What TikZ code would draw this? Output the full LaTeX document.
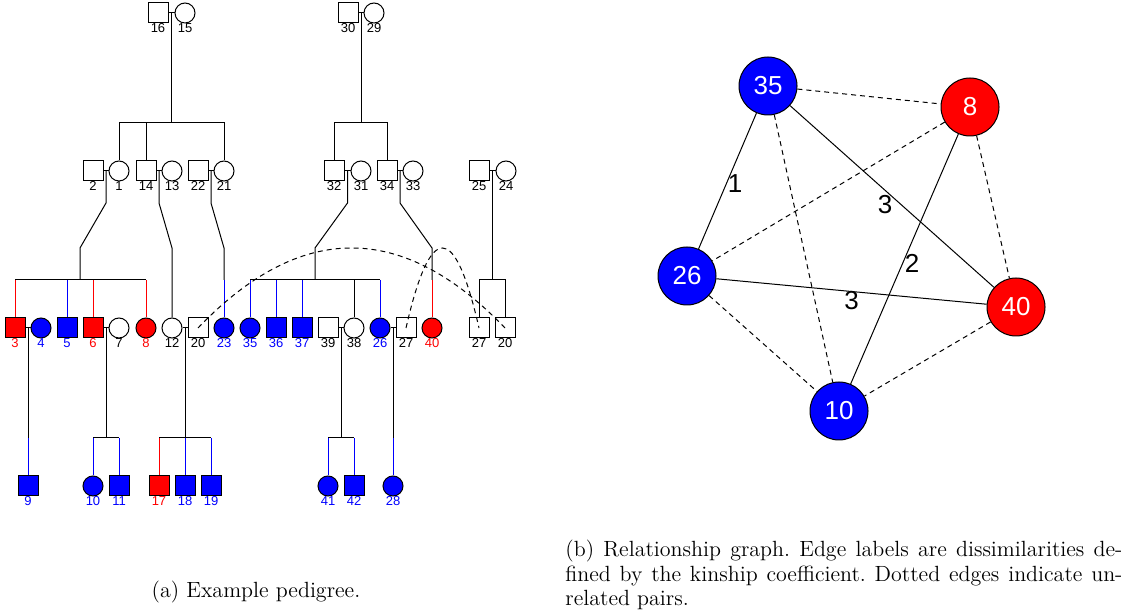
\documentclass[tikz,border=0pt]{standalone}
\usepackage{fontspec}
\newfontfamily\arial{Liberation Sans}
\begin{document}
\begin{tikzpicture}[x=0.5pt,y=-0.5pt,
  ped/.style={line width=0.5pt},
  sq/.style={draw, rectangle, minimum size=10pt, inner sep=0pt, line width=0.5pt, fill=white},
  ci/.style={draw, circle, minimum size=10pt, inner sep=0pt, line width=0.5pt, fill=white},
  affr/.style={fill=red},
  affb/.style={fill=blue},
  plab/.style={font=\arial\fontsize{6.5}{7}\selectfont, inner sep=0pt},
  lk/.style={label={[plab]below:#1}},
  lr/.style={label={[plab,text=red]below:#1}},
  lb/.style={label={[plab,text=blue]below:#1}},
  dupline/.style={dash pattern=on 2.5pt off 2pt, line width=0.5pt},
  gn/.style={draw, circle, minimum size=29pt, inner sep=0pt, line width=0.5pt, text=white, font=\arial\fontsize{13}{15}\selectfont},
  gsolid/.style={line width=0.5pt},
  gdash/.style={line width=0.5pt, dash pattern=on 2.5pt off 2pt},
  elab/.style={inner sep=0pt, anchor=center, font=\arial\fontsize{13}{15}\selectfont},
  captext/.style={inner sep=0pt, font=\fontsize{11}{12.2}\selectfont\frenchspacing}
]
\useasboundingbox (0,0) rectangle (1134,613);

% ---------- generation 1 ----------
\node[sq,lk=16] (p16) at (158,13) {};
\node[ci,lk=15] (p15) at (185,13) {};
\node[sq,lk=30] (p30) at (348,13) {};
\node[ci,lk=29] (p29) at (374,13) {};

% ---------- generation 2 ----------
\node[sq,lk=2]  (p2)  at (93,171) {};
\node[ci,lk=1]  (p1)  at (119,171) {};
\node[sq,lk=14] (p14) at (146,171) {};
\node[ci,lk=13] (p13) at (172,171) {};
\node[sq,lk=22] (p22) at (198,171) {};
\node[ci,lk=21] (p21) at (224,171) {};
\node[sq,lk=32] (p32) at (334,171) {};
\node[ci,lk=31] (p31) at (361,171) {};
\node[sq,lk=34] (p34) at (387,171) {};
\node[ci,lk=33] (p33) at (413,171) {};
\node[sq,lk=25] (p25) at (479,171) {};
\node[ci,lk=24] (p24) at (506,171) {};

% ---------- generation 3 ----------
\node[sq,affr,lr=3]  (p3)   at (15,328) {};
\node[ci,affb,lb=4]  (p4)   at (41,328) {};
\node[sq,affb,lb=5]  (p5)   at (67,328) {};
\node[sq,affr,lr=6]  (p6)   at (93,328) {};
\node[ci,lk=7]       (p7)   at (119,328) {};
\node[ci,affr,lr=8]  (p8)   at (146,328) {};
\node[ci,lk=12]      (p12)  at (172,328) {};
\node[sq,lk=20]      (p20a) at (198,328) {};
\node[ci,affb,lb=23] (p23)  at (224,328) {};
\node[ci,affb,lb=35] (p35)  at (250,328) {};
\node[sq,affb,lb=36] (p36)  at (276,328) {};
\node[sq,affb,lb=37] (p37)  at (302,328) {};
\node[sq,lk=39]      (p39)  at (328,328) {};
\node[ci,lk=38]      (p38)  at (354,328) {};
\node[ci,affb,lb=26] (p26)  at (380,328) {};
\node[sq,lk=27]      (p27a) at (406,328) {};
\node[ci,affr,lr=40] (p40)  at (432,328) {};
\node[sq,lk=27]      (p27b) at (479,328) {};
\node[sq,lk=20]      (p20b) at (505,328) {};

% ---------- generation 4 ----------
\node[sq,affb,lb=9]  (p9)  at (28,486) {};
\node[ci,affb,lb=10] (p10) at (93,486) {};
\node[sq,affb,lb=11] (p11) at (119,486) {};
\node[sq,affr,lr=17] (p17) at (159,486) {};
\node[sq,affb,lb=18] (p18) at (185,486) {};
\node[sq,affb,lb=19] (p19) at (211,486) {};
\node[ci,affb,lb=41] (p41) at (328,486) {};
\node[sq,affb,lb=42] (p42) at (354,486) {};
\node[ci,affb,lb=28] (p28) at (393,486) {};

% ---------- marriages ----------
\draw[ped] (p16) -- (p15);
\draw[ped] (p30) -- (p29);
\draw[ped] (p2) -- (p1);
\draw[ped] (p14) -- (p13);
\draw[ped] (p22) -- (p21);
\draw[ped] (p32) -- (p31);
\draw[ped] (p34) -- (p33);
\draw[ped] (p25) -- (p24);
\draw[ped] (p3) -- (p4);
\draw[ped] (p6) -- (p7);
\draw[ped] (p12) -- (p20a);
\draw[ped] (p39) -- (p38);
\draw[ped] (p26) -- (p27a);

% ---------- family 16 x 15 ----------
\draw[ped] (171.5,13) -- (171.5,123);
\draw[ped] (p1.north) -- (119,123) -- (224,123) -- (p21.north);
\draw[ped] (146,123) -- (p14.north);
% family 30 x 29
\draw[ped] (361,13) -- (361,123);
\draw[ped] (p32.north) -- (334,123) -- (387,123) -- (p34.north);

% family 2 x 1
\draw[ped] (106,171) -- (106,203) -- (80,248) -- (80,280);
\draw[ped] (15,280) -- (146,280);
\draw[ped,red]  (15,280) -- (p3.north);
\draw[ped,blue] (67,280) -- (p5.north);
\draw[ped,red]  (93,280) -- (p6.north);
\draw[ped,red]  (146,280) -- (p8.north);
% family 14 x 13
\draw[ped] (159,171) -- (159,203) -- (172,248) -- (p12.north);
% family 22 x 21
\draw[ped] (211,171) -- (211,203) -- (224,248) -- (224,280);
\draw[ped,blue] (224,280) -- (p23.north);
% family 32 x 31
\draw[ped] (347.5,171) -- (347.5,203) -- (315,248) -- (315,280);
\draw[ped] (250,280) -- (380,280);
\draw[ped,blue] (250,280) -- (p35.north);
\draw[ped,blue] (276,280) -- (p36.north);
\draw[ped,blue] (302,280) -- (p37.north);
\draw[ped]      (354,280) -- (p38.north);
\draw[ped,blue] (380,280) -- (p26.north);
% family 34 x 33
\draw[ped] (400,171) -- (400,203) -- (432,248) -- (432,280);
\draw[ped,red] (432,280) -- (p40.north);
% family 25 x 24
\draw[ped] (492.5,171) -- (492.5,280);
\draw[ped] (p27b.north) -- (479,280) -- (505,280) -- (p20b.north);

% family 3 x 4
\draw[ped] (28,328) -- (28,438);
\draw[ped,blue] (28,438) -- (p9.north);
% family 6 x 7
\draw[ped] (106,328) -- (106,438);
\draw[ped] (93,438) -- (119,438);
\draw[ped,blue] (93,438) -- (p10.north);
\draw[ped,blue] (119,438) -- (p11.north);
% family 12 x 20
\draw[ped] (185,328) -- (185,438);
\draw[ped] (159,438) -- (211,438);
\draw[ped,red]  (159,438) -- (p17.north);
\draw[ped,blue] (185,438) -- (p18.north);
\draw[ped,blue] (211,438) -- (p19.north);
% family 39 x 38
\draw[ped] (341,328) -- (341,438);
\draw[ped] (328,438) -- (354,438);
\draw[ped,blue] (328,438) -- (p41.north);
\draw[ped,blue] (354,438) -- (p42.north);
% family 26 x 27
\draw[ped] (393,328) -- (393,438);
\draw[ped,blue] (393,438) -- (p28.north);

% duplicate links (parabolic arcs)
\draw[dupline] (p20a.center) .. controls (300.3,221.3) and (402.7,221.3) .. (p20b.center);
\draw[dupline] (p27a.center) .. controls (430.3,221.3) and (454.7,221.3) .. (p27b.center);

% ---------- relationship graph ----------
\node[gn,fill=blue] (g35) at (768,86) {35};
\node[gn,fill=red]  (g8)  at (970,107) {8};
\node[gn,fill=blue] (g26) at (687,276) {26};
\node[gn,fill=red]  (g40) at (1016,307) {40};
\node[gn,fill=blue] (g10) at (839,411) {10};

\draw[gdash] (g35) -- (g8);
\draw[gdash] (g35) -- (g10);
\draw[gdash] (g8) -- (g26);
\draw[gdash] (g8) -- (g40);
\draw[gdash] (g26) -- (g10);
\draw[gdash] (g40) -- (g10);
\draw[gsolid] (g35) -- node[elab, pos=0.5, xshift=3.75pt, yshift=-1.25pt] (e1) {1} (g26);
\draw[gsolid] (g35) -- node[elab, pos=0.5, xshift=-3.5pt, yshift=-4.25pt] (e2) {3} (g40);
\draw[gsolid] (g8) -- node[elab, pos=0.5, xshift=3.75pt, yshift=-2pt] (e3) {2} (g10);
\draw[gsolid] (g26) -- node[elab, pos=0.5, xshift=0pt, yshift=-4.5pt] (e4) {3} (g40);

% ---------- captions ----------
\node[captext, anchor=base] (capa) at (256,598) {(a) Example pedigree.};
\node[captext, anchor=base west, text width=278.5pt, align=justify] (capb) at (565,557)
 {(b) Relationship graph. Edge labels are dissimilarities de-\linebreak
  fined by the kinship coefficient. Dotted edges indicate un-\linebreak
  related pairs.};
\end{tikzpicture}
\end{document}
